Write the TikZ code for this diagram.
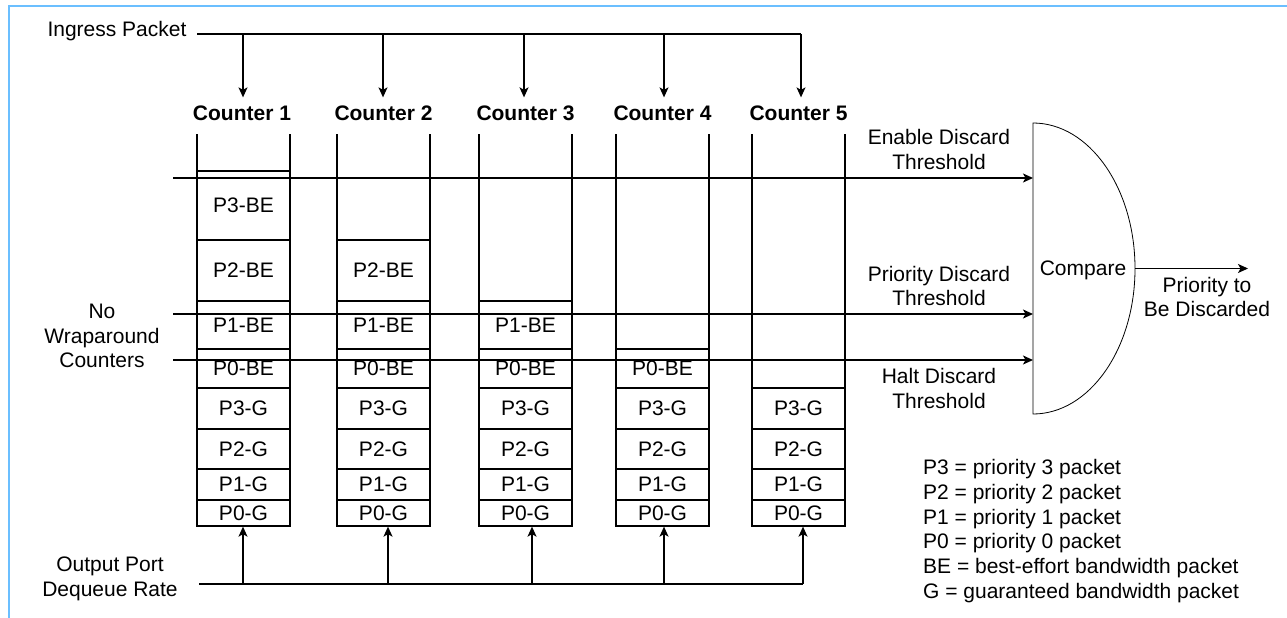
\documentclass[tikz,border=0pt]{standalone}
\usepackage{fontspec}
\setmainfont{Liberation Sans}
\usetikzlibrary{arrows.meta}
\definecolor{framebl}{HTML}{6BBFFF}

\begin{document}
\begin{tikzpicture}[x=1pt,y=-1pt,
  every node/.style={inner sep=2pt, font=\fontsize{21pt}{24.8pt}\selectfont},
  ln/.style={line width=1.3pt},
  arr/.style={ln, -{Stealth[length=10pt,width=9pt,inset=2.5pt]}},
  cell/.style={draw, line width=1.3pt, minimum width=93pt, inner sep=0pt},
  lbl/.style={align=center}]
\useasboundingbox (0,0) rectangle (1287,618);
\draw[framebl, line width=2pt] (8.5,625) -- (8.5,6) -- (1295,6);

% ingress side
\node (ingress) at (117,31) {Ingress Packet};
\node (cnt1) at (242,113) {\bfseries Counter 1};
\node (cnt2) at (383.5,113) {\bfseries Counter 2};
\node (cnt3) at (525.5,113) {\bfseries Counter 3};
\node (cnt4) at (662.5,113) {\bfseries Counter 4};
\node (cnt5) at (798.5,113) {\bfseries Counter 5};
\coordinate (ib) at (197,34);
\coordinate (i1) at (243,34);
\coordinate (i2) at (383,34);
\coordinate (i3) at (524,34);
\coordinate (i4) at (664,34);
\coordinate (i5) at (801,34);
\draw[ln] (ib) -- (i5);
\foreach \c in {1,...,5}
  \draw[arr, shorten >=6pt] (i\c) -- (i\c |- cnt\c.north);

% counter columns
\foreach \c/\cx in {1/243.5,2/383.5,3/525.5,4/662.5,5/798.5} {
  \draw[ln] (\cx-46.5,134) -- (\cx-46.5,526) (\cx+46.5,134) -- (\cx+46.5,526);
  \node[cell, minimum height=41pt] (c\c-p3g) at (\cx,408.5) {P3-G};
  \node[cell, minimum height=40pt] (c\c-p2g) at (\cx,449) {P2-G};
  \node[cell, minimum height=31pt] (c\c-p1g) at (\cx,484.5) {P1-G};
  \node[cell, minimum height=26pt] (c\c-p0g) at (\cx,513) {P0-G};
}
\node[cell, minimum height=69pt] (c1-p3be) at (243.5,205.5) {P3-BE};
\node[cell, minimum height=61pt] (c1-p2be) at (243.5,270.5) {P2-BE};
\node[cell, minimum height=48pt] (c1-p1be) at (243.5,325) {P1-BE};
\node[cell, minimum height=39pt] (c1-p0be) at (243.5,368.5) {P0-BE};
\node[cell, minimum height=61pt] (c2-p2be) at (383.5,270.5) {P2-BE};
\node[cell, minimum height=48pt] (c2-p1be) at (383.5,325) {P1-BE};
\node[cell, minimum height=39pt] (c2-p0be) at (383.5,368.5) {P0-BE};
\node[cell, minimum height=48pt] (c3-p1be) at (525.5,325) {P1-BE};
\node[cell, minimum height=39pt] (c3-p0be) at (525.5,368.5) {P0-BE};
\node[cell, minimum height=39pt] (c4-p0be) at (662.5,368.5) {P0-BE};

% thresholds into compare
\node[lbl] (nowrap) at (102,336) {No\\Wraparound\\Counters};
\coordinate (te) at (173,178);
\coordinate (tp) at (173,314);
\coordinate (th) at (173,360);
\coordinate (ce) at (1033,178);
\coordinate (cp) at (1033,314);
\coordinate (ch) at (1033,360);
\draw[arr] (te) -- (ce);
\draw[arr] (tp) -- (cp);
\draw[arr] (th) -- (ch);
\node[lbl] (enable) at (939,149.5) {Enable Discard\\Threshold};
\node[lbl] (prior) at (939,286) {Priority Discard\\Threshold};
\node[lbl] (halt) at (939,388.5) {Halt Discard\\Threshold};

% compare block
\coordinate (cmpT) at (1033,123);
\coordinate (cmpB) at (1033,414);
\coordinate (cmpR) at (1135,268.5);
\draw[line width=0.8pt] (cmpB) -- (cmpT) .. controls (1089.3,123) and (1135,188.1) .. (cmpR)
  .. controls (1135,348.9) and (1089.3,414) .. (cmpB) -- cycle;
\node (cmp) at (1083,270) {Compare};
\coordinate (outE) at (1248,268.5);
\draw[arr] (cmpR) -- (outE);
\node[lbl] (discard) at (1207,297) {Priority to\\Be Discarded};

% dequeue side
\node[lbl] (dequeue) at (110,579) {Output Port\\Dequeue Rate};
\coordinate (db) at (199,584);
\coordinate (d1) at (243,584);
\coordinate (d2) at (388,584);
\coordinate (d3) at (532,584);
\coordinate (d4) at (664,584);
\coordinate (d5) at (803,584);
\draw[ln] (db) -- (d5);
\foreach \c in {1,...,5}
  \draw[arr] (d\c) -- (d\c |- c\c-p0g.south);

% legend
\node[align=left, anchor=west] (legend) at (921,531) {P3 = priority 3 packet\\P2 = priority 2 packet\\P1 = priority 1 packet\\P0 = priority 0 packet\\BE = best-effort bandwidth packet\\G = guaranteed bandwidth packet};
\end{tikzpicture}
\end{document}
